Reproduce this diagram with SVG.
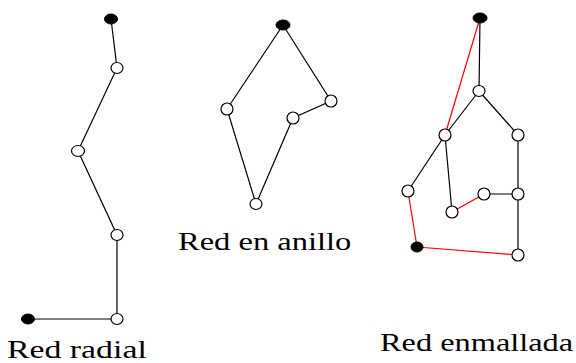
<svg xmlns="http://www.w3.org/2000/svg" width="576" height="363" viewBox="0 0 576 363">
  <style>
    .edge { stroke: #000; stroke-width: 1.2; fill: none; }
    .edge.alt { stroke: #f00; }
    .node { fill: #fff; stroke: #000; stroke-width: 1.2; }
    .src { fill: #000; stroke: #000; stroke-width: 1; }
    .label { font-family: "Liberation Serif", "Times New Roman", serif; font-size: 26px; fill: #000; }
  </style>
  <rect width="576" height="363" fill="#fff"/>

  <!-- connectors -->
  <g id="connectors">
    <!-- radial -->
    <polyline class="edge" points="111,19 117,68 78,151 117,235 117,319 28,319"/>
    <!-- ring -->
    <polyline class="edge" points="283,25 227,109 256,204 293,118 331,101 283,25"/>
    <!-- mesh -->
    <line class="edge" x1="480" y1="18" x2="479" y2="91"/>
    <line class="edge" x1="479" y1="91" x2="445" y2="135"/>
    <line class="edge" x1="479" y1="91" x2="518" y2="135"/>
    <line class="edge" x1="445" y1="135" x2="408" y2="191"/>
    <line class="edge" x1="445" y1="135" x2="452" y2="212"/>
    <line class="edge" x1="518" y1="135" x2="518" y2="194"/>
    <line class="edge" x1="484" y1="194" x2="518" y2="194"/>
    <line class="edge" x1="518" y1="194" x2="518" y2="255"/>
    <line class="edge alt" x1="480" y1="18" x2="445" y2="135"/>
    <line class="edge alt" x1="452" y1="212" x2="484" y2="194"/>
    <line class="edge alt" x1="408" y1="191" x2="417" y2="247"/>
    <line class="edge alt" x1="417" y1="247" x2="518" y2="255"/>
  </g>

  <!-- radial network nodes -->
  <g id="radial">
    <ellipse id="r-src1" class="src" cx="111" cy="19" rx="6.5" ry="5"/>
    <ellipse id="r-n1" class="node" cx="117" cy="68" rx="6" ry="5.5"/>
    <ellipse id="r-n2" class="node" cx="78" cy="151" rx="6.5" ry="5.5"/>
    <ellipse id="r-n3" class="node" cx="117" cy="235" rx="6" ry="5.5"/>
    <ellipse id="r-n4" class="node" cx="117" cy="319" rx="6" ry="5.5"/>
    <ellipse id="r-src2" class="src" cx="28" cy="319" rx="6.5" ry="5"/>
  </g>

  <!-- ring network nodes -->
  <g id="ring">
    <ellipse id="a-src" class="src" cx="283" cy="25" rx="7" ry="5"/>
    <ellipse id="a-n1" class="node" cx="227" cy="109" rx="6" ry="6"/>
    <ellipse id="a-n2" class="node" cx="331" cy="101" rx="6" ry="6"/>
    <ellipse id="a-n3" class="node" cx="293" cy="118" rx="6" ry="6"/>
    <ellipse id="a-n4" class="node" cx="256" cy="204" rx="6" ry="5.5"/>
  </g>

  <!-- meshed network nodes -->
  <g id="mesh">
    <ellipse id="m-src1" class="src" cx="480" cy="18" rx="7" ry="5"/>
    <ellipse id="m-n1" class="node" cx="479" cy="91" rx="6" ry="5.5"/>
    <ellipse id="m-n2" class="node" cx="445" cy="135" rx="6" ry="6"/>
    <ellipse id="m-n3" class="node" cx="518" cy="135" rx="6" ry="6"/>
    <ellipse id="m-n4" class="node" cx="408" cy="191" rx="6" ry="6"/>
    <ellipse id="m-n5" class="node" cx="484" cy="194" rx="6" ry="6"/>
    <ellipse id="m-n6" class="node" cx="518" cy="194" rx="6" ry="6"/>
    <ellipse id="m-n7" class="node" cx="452" cy="212" rx="6" ry="6"/>
    <ellipse id="m-src2" class="src" cx="417" cy="247" rx="6" ry="5"/>
    <ellipse id="m-n8" class="node" cx="518" cy="255" rx="6" ry="6"/>
  </g>

  <!-- captions: serif type, widened horizontally -->
  <g id="captions">
    <text class="label" transform="translate(7 358) scale(1.3 1)">Red radial</text>
    <text class="label" transform="translate(178 250) scale(1.25 1)">Red en anillo</text>
    <text class="label" transform="translate(380 351) scale(1.245 1)">Red enmallada</text>
  </g>
</svg>
